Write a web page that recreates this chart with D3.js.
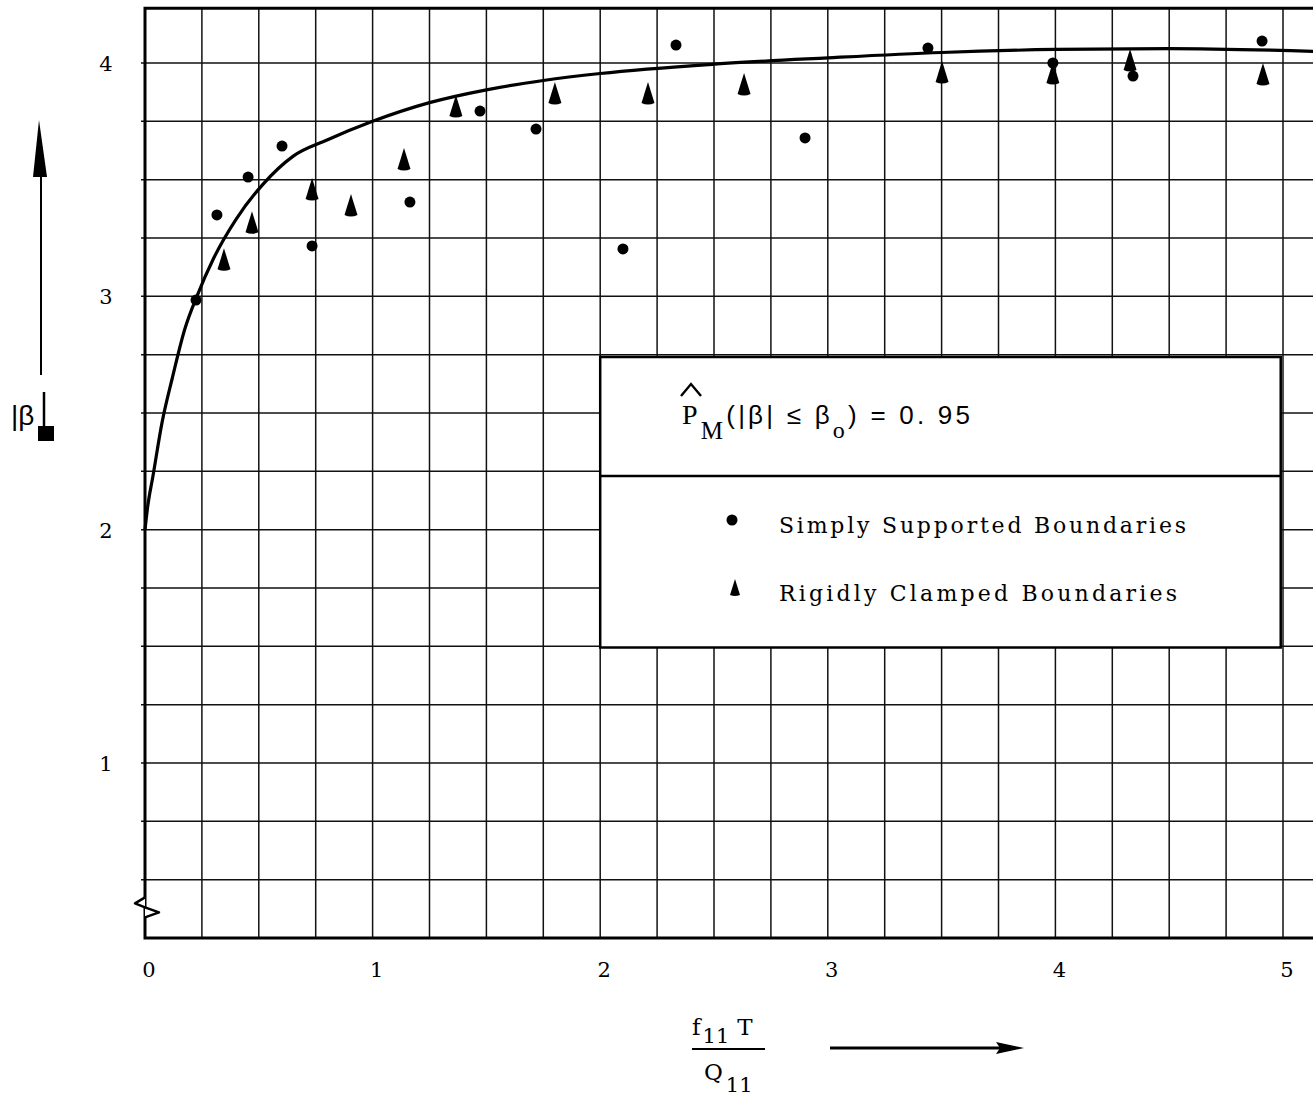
<!DOCTYPE html>
<html><head><meta charset="utf-8">
<script src="https://cdn.jsdelivr.net/npm/d3@7"></script>
<style>body{margin:0;background:#fff}svg{display:block}</style>
</head><body>
<svg id="chart" width="1313" height="1096"></svg>
<script>
// ---- data ----
const xTickValues = [0, 1, 2, 3, 4, 5];
const yTickValues = [1, 2, 3, 4];
const simplyX = [0.224, 0.316, 0.453, 0.602, 0.734, 1.164, 1.472, 1.718, 2.100, 2.333, 2.900, 3.440, 3.989, 4.341, 4.908];
const simplyY = [2.984, 3.349, 3.511, 3.644, 3.216, 3.404, 3.794, 3.717, 3.203, 4.077, 3.679, 4.064, 4.000, 3.944, 4.094];
const clampedX = [0.347, 0.470, 0.734, 0.905, 1.138, 1.366, 1.801, 2.210, 2.632, 3.502, 3.989, 4.328, 4.912];
const clampedY = [3.150, 3.309, 3.451, 3.383, 3.580, 3.807, 3.863, 3.863, 3.901, 3.953, 3.949, 4.004, 3.944];
const curveX = [0.000, 0.012, 0.035, 0.075, 0.120, 0.175, 0.228, 0.300, 0.400, 0.518, 0.650, 0.800, 1.000, 1.250, 1.500, 1.750, 2.000, 2.500, 3.000, 3.500, 4.000, 4.500, 5.132];
const curveY = [2.000, 2.100, 2.230, 2.460, 2.650, 2.860, 3.000, 3.160, 3.330, 3.480, 3.600, 3.670, 3.750, 3.830, 3.885, 3.925, 3.955, 3.995, 4.022, 4.045, 4.058, 4.062, 4.050];
const legendLabels = ["Simply Supported Boundaries", "Rigidly Clamped Boundaries"];

// ---- scales ----
const x = d3.scaleLinear().domain([0, 5]).range([145, 1283]);
const y = d3.scaleLinear().domain([1, 4]).range([763, 63]);
const yBottom = 0.25, yTop = 4.235, xRight = 5.25;

const svg = d3.select("#chart");
const serif = "'DejaVu Serif', 'Liberation Serif', serif";
const serif2 = "'Liberation Serif', 'DejaVu Serif', serif";
const sans = "'Liberation Sans', 'DejaVu Sans', sans-serif";

// ---- grid ----
const g = svg.append("g");
const vLines = d3.range(0, xRight + 0.001, 0.25);
const hLines = d3.range(0.5, 4.001, 0.25);
g.selectAll("line.v").data(vLines).join("line")
  .attr("x1", d => x(d)).attr("x2", d => x(d))
  .attr("y1", y(yTop)).attr("y2", y(yBottom))
  .attr("stroke", "#111").attr("stroke-width", 1.5);
g.selectAll("line.h").data(hLines).join("line")
  .attr("x1", x(0) - 4).attr("x2", x(xRight))
  .attr("y1", d => y(d)).attr("y2", d => y(d))
  .attr("stroke", "#111").attr("stroke-width", 1.5);

// frame (top, left, bottom)
svg.append("path")
  .attr("d", `M${x(xRight)},${y(yTop)} L${x(0)},${y(yTop)} L${x(0)},${y(yBottom)} L${x(xRight)},${y(yBottom)}`)
  .attr("fill", "none").attr("stroke", "#000").attr("stroke-width", 3);

// axis break symbol
const bx = x(0), by = y(0.39);
svg.append("path")
  .attr("d", `M${bx},${by-8} L${bx-10},${by-2} L${bx},${by+2} L${bx+14},${by+7} L${bx},${by+12}`)
  .attr("fill", "#fff").attr("stroke", "#000").attr("stroke-width", 2.5).attr("stroke-linejoin", "round");

// ---- tick labels ----
svg.selectAll("text.xt").data(xTickValues).join("text")
  .attr("x", d => x(d) + 4).attr("y", 977)
  .attr("text-anchor", "middle").attr("font-family", serif).attr("font-size", 21)
  .text(d => d);
svg.selectAll("text.yt").data(yTickValues).join("text")
  .attr("x", 106).attr("y", d => y(d) + 8)
  .attr("text-anchor", "middle").attr("font-family", serif).attr("font-size", 21)
  .text(d => d);

// ---- curve ----
const curveData = curveX.map((v, i) => [v, curveY[i]]);
svg.append("path")
  .datum(curveData)
  .attr("d", d3.line().x(d => x(d[0])).y(d => y(d[1])).curve(d3.curveMonotoneX))
  .attr("fill", "none").attr("stroke", "#000").attr("stroke-width", 3.2);

// ---- legend box ----
const lg = svg.append("g");
lg.append("rect")
  .attr("x", x(2)).attr("y", y(2.74))
  .attr("width", x(4.99) - x(2)).attr("height", y(1.495) - y(2.74))
  .attr("fill", "#fff").attr("stroke", "#000").attr("stroke-width", 2.5);
lg.append("line")
  .attr("x1", x(2)).attr("x2", x(4.99)).attr("y1", y(2.23)).attr("y2", y(2.23))
  .attr("stroke", "#000").attr("stroke-width", 2.5);

// ---- markers ----
const triPath = "M0,-13 L6.5,8 Q0,11 -6.5,8 Z";
svg.selectAll("circle.s").data(simplyX.map((v, i) => [v, simplyY[i]])).join("circle")
  .attr("cx", d => x(d[0])).attr("cy", d => y(d[1])).attr("r", 5.5).attr("fill", "#000");
svg.selectAll("path.c").data(clampedX.map((v, i) => [v, clampedY[i]])).join("path")
  .attr("transform", d => `translate(${x(d[0])},${y(d[1])})`)
  .attr("d", triPath).attr("fill", "#000");

// legend title
const title = lg.append("text").attr("x", 682).attr("y", 424).attr("font-size", 28).attr("fill", "#000")
  .attr("textLength", 288).attr("lengthAdjust", "spacing");
title.append("tspan").attr("font-family", serif2).text("P");
title.append("tspan").attr("font-family", serif2).attr("font-size", 25).attr("dy", 15).text("M");
title.append("tspan").attr("font-family", sans).attr("font-size", 26).attr("dy", -15).text("(|β|  ≤ β");
title.append("tspan").attr("font-family", serif2).attr("font-size", 24).attr("dy", 14).text("o");
title.append("tspan").attr("font-family", sans).attr("font-size", 26).attr("dy", -14).text(") = 0. 95");
lg.append("path").attr("d", "M681,396 L691,384 L701,396")
  .attr("fill", "none").attr("stroke", "#000").attr("stroke-width", 2.4);

// legend entries
lg.append("circle").attr("cx", 732).attr("cy", 520).attr("r", 5.5).attr("fill", "#000");
lg.append("path").attr("transform", "translate(735,589)").attr("d", "M0,-10 L5,6 Q0,8 -5,6 Z").attr("fill", "#000");
lg.selectAll("text.li").data(legendLabels).join("text")
  .attr("x", 779).attr("y", (d, i) => 533 + i * 68)
  .attr("font-family", serif).attr("font-size", 22)
  .attr("textLength", (d, i) => i === 0 ? 407 : 398).attr("lengthAdjust", "spacing")
  .text(d => d);

// ---- y-axis label ----
svg.append("line").attr("x1", 41).attr("x2", 41).attr("y1", 170).attr("y2", 375)
  .attr("stroke", "#000").attr("stroke-width", 2);
svg.append("path").attr("d", "M39,120 L47,177 L33,177 Z").attr("fill", "#000");
svg.append("text").attr("x", 11).attr("y", 425).attr("font-family", sans).attr("font-size", 28).text("|β");
svg.append("line").attr("x1", 44).attr("x2", 44).attr("y1", 392).attr("y2", 430)
  .attr("stroke", "#000").attr("stroke-width", 2.5);
svg.append("rect").attr("x", 38).attr("y", 426).attr("width", 16).attr("height", 15).attr("fill", "#000");

// ---- x-axis label ----
const xl = svg.append("g").attr("font-family", serif).attr("fill", "#000");
const numer = xl.append("text").attr("x", 692).attr("y", 1035).attr("font-size", 23);
numer.append("tspan").text("f");
numer.append("tspan").attr("font-size", 21).attr("dy", 8).attr("dx", 2).text("11");
numer.append("tspan").attr("dy", -8).attr("dx", 8).text("T");
xl.append("line").attr("x1", 692).attr("x2", 765).attr("y1", 1049).attr("y2", 1049)
  .attr("stroke", "#000").attr("stroke-width", 2);
const denom = xl.append("text").attr("x", 704).attr("y", 1080).attr("font-size", 23);
denom.append("tspan").text("Q");
denom.append("tspan").attr("font-size", 21).attr("dy", 12).attr("dx", 3).text("11");
svg.append("line").attr("x1", 830).attr("x2", 1010).attr("y1", 1048).attr("y2", 1048)
  .attr("stroke", "#000").attr("stroke-width", 3);
svg.append("path").attr("d", "M1024,1048 L996,1042 L1000,1048 L996,1054 Z").attr("fill", "#000");
</script>
</body></html>
